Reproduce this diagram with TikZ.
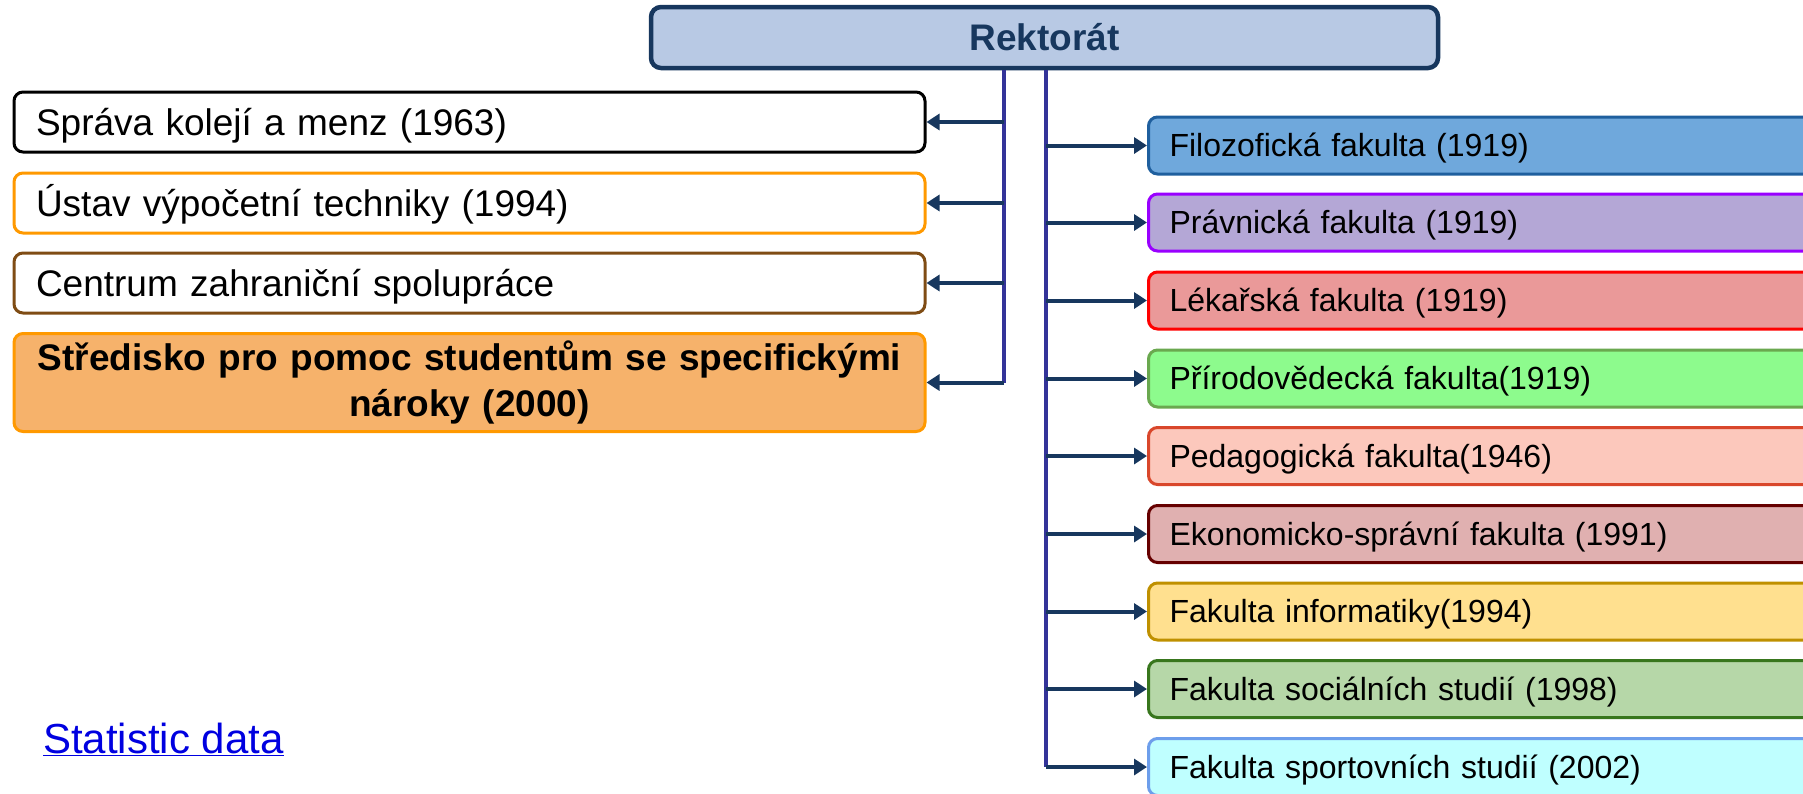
\documentclass[tikz,border=0pt]{standalone}
\usepackage{fontspec}
\setmainfont{Liberation Sans}
\usetikzlibrary{arrows.meta}
\definecolor{navy}{HTML}{17375E}
\definecolor{rekfill}{HTML}{B8C9E4}
\definecolor{trunk}{HTML}{333399}
\definecolor{orangeb}{HTML}{FF9900}
\definecolor{brownb}{HTML}{7F4C14}
\definecolor{stredfill}{HTML}{F6B26B}
\definecolor{linkblue}{HTML}{0000E0}
\definecolor{ffb}{HTML}{1F5F9E}\definecolor{fff}{HTML}{6FA8DC}
\definecolor{prb}{HTML}{9900FF}\definecolor{prf}{HTML}{B4A7D6}
\definecolor{lfb}{HTML}{FF0000}\definecolor{lff}{HTML}{EA9999}
\definecolor{scb}{HTML}{6AA84F}\definecolor{scf}{HTML}{8DFB8D}
\definecolor{pdb}{HTML}{D9472B}\definecolor{pdf}{HTML}{FCC8BC}
\definecolor{esb}{HTML}{660000}\definecolor{esf}{HTML}{E0B0B0}
\definecolor{fib}{HTML}{BF9000}\definecolor{fif}{HTML}{FFE08F}
\definecolor{fsb}{HTML}{38761D}\definecolor{fsf}{HTML}{B6D7A8}
\definecolor{spb}{HTML}{6D9EEB}\definecolor{spf}{HTML}{BFFFFF}
\begin{document}
\begin{tikzpicture}[x=1pt,y=-1pt,
  lbox/.style={draw, rounded corners=9pt, line width=3pt, fill=white,
    minimum width=911pt, text width=867pt, inner xsep=22pt, inner ysep=0pt,
    minimum height=60pt, align=left, text height=26.5pt, text depth=0pt,
    font=\fontsize{37}{46}\selectfont},
  rbox/.style={draw, rounded corners=9pt, line width=3pt, anchor=west,
    minimum width=720pt, text width=678pt, inner xsep=21pt, inner ysep=0pt,
    minimum height=57pt, align=left, text height=22.9pt, text depth=0pt,
    font=\fontsize{32}{38}\selectfont},
  trunkline/.style={draw=trunk, line width=3.5pt},
  arr/.style={draw=navy, line width=4pt, -{Triangle[width=16pt,length=13pt]}}]
\useasboundingbox (0,0) rectangle (1803,793);
\clip (0,0) rectangle (1803,793);

% Rektorat
\node[draw=navy, fill=rekfill, line width=4.5pt, rounded corners=10pt,
  minimum width=787pt, minimum height=61pt, inner sep=0pt,
  font=\fontsize{37}{44}\selectfont\bfseries, text=navy] (rek) at (1044.5,37.5) {Rektorát};

% left boxes
\node[lbox, draw=black] (sprava) at (469.5,122) {Správa kolejí a menz (1963)};
\node[lbox, draw=orangeb] (ustav) at (469.5,203) {Ústav výpočetní techniky (1994)};
\node[lbox, draw=brownb] (centrum) at (469.5,283) {Centrum zahraniční spolupráce};
\node[lbox, draw=orangeb, fill=stredfill, minimum height=98pt, align=center,
  text height=, text depth=,
  font=\fontsize{37}{46}\selectfont\bfseries] (stred) at (469.5,382.5)
  {Středisko pro pomoc studentům se specifickými\\ nároky (2000)};

% right boxes
\node[rbox, draw=ffb, fill=fff] (ff) at (1147,145.5) {Filozofická fakulta (1919)};
\node[rbox, draw=prb, fill=prf] (pr) at (1147,222.5) {Právnická fakulta (1919)};
\node[rbox, draw=lfb, fill=lff] (lf) at (1147,300.5) {Lékařská fakulta (1919)};
\node[rbox, draw=scb, fill=scf] (sc) at (1147,378.5) {Přírodovědecká fakulta(1919)};
\node[rbox, draw=pdb, fill=pdf] (pd) at (1147,456) {Pedagogická fakulta(1946)};
\node[rbox, draw=esb, fill=esf] (es) at (1147,534) {Ekonomicko-správní fakulta (1991)};
\node[rbox, draw=fib, fill=fif] (fi) at (1147,611.5) {Fakulta informatiky(1994)};
\node[rbox, draw=fsb, fill=fsf] (fs) at (1147,689) {Fakulta sociálních studií (1998)};
\node[rbox, draw=spb, fill=spf] (sp) at (1147,767) {Fakulta sportovních studií (2002)};

% trunks
\coordinate (tl) at (1004,0);
\coordinate (tr) at (1046,0);
\draw[trunkline] (rek.south -| tl) -- (stred.east -| tl);
\draw[trunkline] (rek.south -| tr) -- (sp.west -| tr);

% arrows
\foreach \n in {sprava,ustav,centrum,stred}
  \draw[arr] (\n.east -| tl) -- (\n.east);
\foreach \n in {ff,pr,lf,sc,pd,es,fi,fs,sp}
  \draw[arr] (\n.west -| tr) -- (\n.west);

% link
\node[anchor=base west, inner sep=0pt, text=linkblue,
  font=\fontsize{42}{50}\selectfont] (stat) at (43,753) {\underline{Statistic data}};
\end{tikzpicture}
\end{document}
